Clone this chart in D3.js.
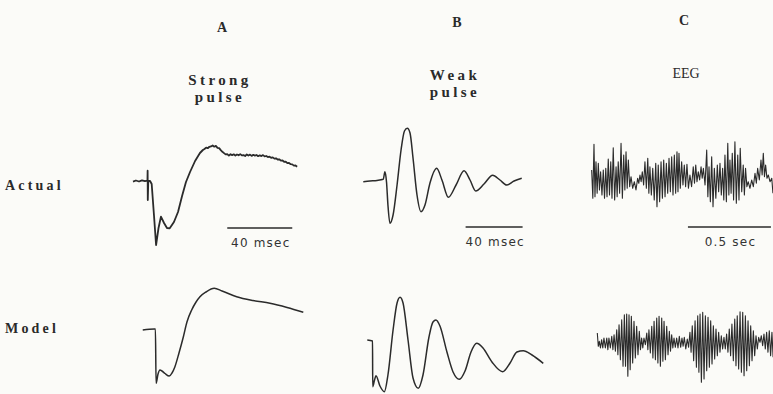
<!DOCTYPE html>
<html>
<head>
<meta charset="utf-8">
<script src="https://cdn.jsdelivr.net/npm/d3@7"></script>
<style>
  body { margin: 0; background: #fbfbf8; }
  svg { display: block; }
</style>
</head>
<body>
<div id="chart"></div>
<script>
// column headings and row labels
var columns = ["A", "B", "C"];
var titles = [["Strong", "pulse"], ["Weak", "pulse"], ["EEG"]];
var rows = ["Actual", "Model"];
var scaleLabels = ["40 msec", "40 msec", "0.5 sec"];
var scaleLengths = [40, 40, 500]; // ms

// A: strong pulse, [t ms, amplitude]
var strongActual = [[0,-0.7],[1.8,0.5],[3.7,-0.5],[5.5,0.7],[7.4,-0.2],[8.9,0.5],[9.0,10.3],[9.1,-19],[9.4,0],
  [10.5,0],[11.5,-3],[12.9,-34],[14.2,-64],[15.7,-47],[17.2,-35.7],[19.1,-42],[20.9,-47],[22.6,-47.3],
  [25.2,-41],[27.7,-31],[30.2,-15],[32.6,-1],[35.1,9],[38.2,20],[41.2,28],[43,31],
  [44,32.0],[45,33.4],[46,32.8],[47,34.2],[48,34.6],[49,35.6],[50,34.3],[51,35.1],[52,33.2],[53,32.9],
  [54,30.9],[55,29.2],[56,27.9],[57,26.6],[58,26.9],[59,25.4],[60,26.8],[61,25.9],[62,26.7],[63,25.4],
  [64,26.5],[65,25.7],[66,26.9],[67,25.6],[68,25.9],[69,24.9],[70,26.6],[71,25.5],[72,26.4],[73,25.1],
  [74,26.2],[75,25.4],[76,26.0],[77,24.8],[78,25.7],[79,24.9],[80,25.9],[81,24.6],[82,25.0],[83,23.9],
  [84,24.3],[85,23.2],[86,23.6],[87,22.4],[88,22.7],[89,21.5],[90,21.7],[91,20.4],[92,20.5],[93,19.2],
  [94,19.3],[95,17.9],[96,18.1],[97,16.8],[98,16.6],[99,15.4],[100,15.5],[101,14.3]];
var strongModel = [[6,0],[13.1,1],[13.8,1],[14.2,-53.3],[15.4,-44],[16.6,-40],[17.8,-41],[19.7,-43.5],
  [22.3,-46],[24,-43],[25.8,-36.7],[28.3,-23],[31,-6.7],[33.2,8],[36.1,20],[38.8,28],[41.2,33.3],
  [44.9,38],[50,41.7],[54.8,39],[63.8,33.3],[73.8,29.5],[84.3,26.7],[94.8,22.5],[104.8,17.7]];

// B: weak pulse, [t ms, amplitude]
var weakActual = [[0.2,-0.7],[4.9,0],[9.8,0.5],[14.2,1.7],[15.4,9.3],[16.5,-1],[17.5,-24],[18.9,-42.3],
  [21.1,-34],[23.9,-4],[26.7,31],[29.1,50],[31.1,52.7],[33,48],[35.1,23],[37.9,-14],[40.7,-30.7],
  [43.5,-24],[47,-2],[51.7,12.7],[55.4,1],[59.9,-16.3],[65.3,-4],[70.9,10.3],[75.1,1],[79.1,-10],
  [84.9,-3],[91,5.7],[96.1,1],[100.8,-4],[106,0],[111.4,2.7]];
var weakModel = [[3,1],[6.7,0],[6.8,-45.7],[8.1,-39],[9.1,-34.7],[11.9,-45],[15,-50.7],[17.5,-34],
  [21.1,11],[23.9,38],[26,43.7],[28.1,38],[31.6,1],[35.1,-37],[38.8,-47.3],[42.1,-34],[46.3,4],
  [49.1,19],[51.2,21],[54,15],[58.9,-11],[63.2,-31],[67.6,-38.3],[71.6,-30],[75.8,-11],[79.8,-2.3],
  [84.2,-7],[90.5,-21],[98,-30.7],[103.2,-22],[108,-11],[112.5,-9.7],[118.6,-14],[126.5,-22.3]];

// C: EEG, one entry per wave [t ms, crest, trough]
var eegActual = [[10,9,-19.3],[24,34.7,-17.7],[36,17.3,-14.3],[50,15.7,-11],[64,7.3,-16],[80,9,-19.3],
  [95,10.7,-17.7],[110,20,-16],[125,17.3,-19.3],[140,31.3,-21],[157,12.3,-17.7],[170,17.3,-14.3],
  [187,35.7,-19.3],[203,24,-11],[217,27.3,-9.3],[231,19,-7.7],[247,2.3,-9.3],[267,-2.7,-11],
  [287,0.7,-4.3],[301,4,-2.7],[315,7.3,-6],[331,17.3,-9.3],[348,20.7,-14.3],[361,12.3,-16],
  [378,10.7,-21],[396,15.7,-27.7],[411,14,-22.7],[428,17.3,-19.3],[444,19,-17.7],[460,15.7,-14.3],
  [476,20.7,-12.7],[492,22.3,-16],[508,24,-14.3],[524,27.3,-12.7],[536,25.7,-9.3],[552,17.3,-6],
  [568,14,-7.7],[584,14.7,-9.3],[602,4,-7.7],[622,12.3,-4.3],[637,14,-2.7],[652,7.3,-1],
  [669,12.3,0.7],[683,10.7,-6],[703,29,-17.7],[717,12.3,-22.7],[733,22.3,-27.7],[749,10.7,-19.3],
  [767,14,-12.7],[783,15.7,-16],[799,10.7,-21],[813,24,-22.7],[830,35.7,-16],[843,19,-14.3],
  [857,25.7,-21],[873,37.3,-24.3],[890,24,-21],[905,30.7,-12.7],[923,14,-16],[937,10.7,-7.7],
  [953,-2.7,-9.3],[974,-1,-7.7],[994,5.7,-4.3],[1010,10.7,-1],[1030,19,4],[1044,25.7,2.3],
  [1058,14,0.7],[1074,4,-2.7],[1095,0.7,-14.3]];
var eegModel = [[44,10,-3.3],[56,1.7,-5],[70,3.3,-5],[84,5,-5],[101,5,-6.7],[114,5,-5],[131,6.7,-6.7],
  [145,8.3,-8.3],[161,13.3,-11.7],[175,18.3,-16.7],[191,23.3,-23.3],[207,28.3,-23.3],[221,29,-33.3],
  [235,28.3,-26.7],[249,26.7,-20],[265,21.7,-15],[281,16.7,-11.7],[297,11.7,-6.7],[311,5,-5],
  [325,5,-1.7],[342,10,-6.7],[355,13.3,-10],[372,16.7,-15],[386,21.7,-16.7],[402,25,-20],
  [416,26.7,-23.3],[432,25,-18.3],[446,21.7,-16.7],[462,16.7,-11.7],[478,11.7,-8.3],[492,8.3,-5],
  [506,5,-4.3],[522,5,-5],[538,6.7,-4.3],[554,5,-3.3],[568,5.7,-6],[586,4,-4.3],[602,10.7,-9.3],
  [616,17.3,-17.7],[633,22.3,-24.3],[649,27.3,-29.3],[663,29,-39.3],[679,30.7,-36],[695,27.3,-27.7],
  [711,25.7,-24.3],[727,22.3,-21],[743,17.3,-16],[759,14,-12.7],[775,10.7,-9.3],[791,7.3,-6],
  [807,5.7,-6],[823,9,-9.3],[839,14,-12.7],[855,19,-17.7],[872,24,-22.7],[887,27.3,-26],
  [904,31.3,-29.3],[920,30.7,-32.7],[936,27.3,-27.7],[952,22.3,-22.7],[968,17.3,-17.7],
  [984,12.3,-12.7],[1000,7.3,-6],[1016,5.7,0.7],[1032,7.3,-2.7],[1048,9,-6],[1064,10.7,-9.3],
  [1080,12.3,-12.7],[1096,10.7,-14.3]];

var w = 773, h = 394;
var ink = "#2b2b2b";
var svg = d3.select("#chart").append("svg").attr("width", w).attr("height", h);

// time scales, one per column (px per ms)
var xA = d3.scaleLinear().domain([0, 110]).range([133, 133 + 110 * 1.625]);
var xB = d3.scaleLinear().domain([0, 130]).range([363, 363 + 130 * 1.425]);
var xC = d3.scaleLinear().domain([0, 1100]).range([590, 590 + 1100 * 0.166]);
// amplitude scales around each trace's baseline
function yAt(base) { return d3.scaleLinear().domain([0, 10]).range([base, base - 10]); }

// turn wave list into zig-zag points
function eegPoints(waves) {
  var pts = [];
  waves.forEach(function(d, i) {
    var next = i < waves.length - 1 ? waves[i + 1][0] : d[0] + 14;
    pts.push([d[0], d[1]]);
    pts.push([(d[0] + next) / 2, d[2]]);
  });
  return pts;
}

var traces = [
  {data: strongActual, x: xA, y: yAt(181), curve: d3.curveLinear, sw: 1.8},
  {data: strongModel, x: xA, y: yAt(330), curve: d3.curveMonotoneX, sw: 1.5},
  {data: weakActual, x: xB, y: yAt(181), curve: d3.curveMonotoneX, sw: 1.5},
  {data: weakModel, x: xB, y: yAt(341), curve: d3.curveMonotoneX, sw: 1.5},
  {data: eegPoints(eegActual), x: xC, y: yAt(179), curve: d3.curveLinear, sw: 1.1},
  {data: eegPoints(eegModel), x: xC, y: yAt(343), curve: d3.curveLinear, sw: 1.1}
];

traces.forEach(function(tr) {
  var line = d3.line()
    .x(function(d) { return tr.x(d[0]); })
    .y(function(d) { return tr.y(d[1]); })
    .curve(tr.curve);
  svg.append("path")
    .attr("d", line(tr.data))
    .attr("fill", "none")
    .style("stroke", ink)
    .style("stroke-width", tr.sw)
    .style("stroke-linejoin", "round");
});

// scale bars
var bars = [
  {x: xA, t0: 58, y: 228},
  {x: xB, t0: 72, y: 227},
  {x: xC, t0: 590, y: 227}
];
bars.forEach(function(b, i) {
  var x1 = b.x(b.t0), x2 = b.x(b.t0 + scaleLengths[i]);
  svg.append("line")
    .attr("x1", x1).attr("x2", x2).attr("y1", b.y).attr("y2", b.y)
    .style("stroke", ink).style("stroke-width", 1.6);
  svg.append("text")
    .attr("x", (x1 + x2) / 2 + 1).attr("y", b.y + 19)
    .attr("text-anchor", "middle")
    .style("font-family", "'DejaVu Sans', sans-serif")
    .style("font-size", "12px")
    .style("letter-spacing", "1.2px")
    .style("fill", "#333")
    .text(scaleLabels[i]);
});

// column letters
var colX = [222, 457, 684], colY = [32, 27, 25];
svg.selectAll("text.col").data(columns).enter().append("text")
  .attr("class", "col")
  .attr("x", function(d, i) { return colX[i]; })
  .attr("y", function(d, i) { return colY[i]; })
  .attr("text-anchor", "middle")
  .style("font-family", "'Liberation Serif', serif")
  .style("font-weight", "bold")
  .style("font-size", "14px")
  .style("fill", "#2a2a2a")
  .text(function(d) { return d; });

// column titles
var titleX = [220, 455, 686], titleY = [85, 80, 78];
titles.forEach(function(lines, i) {
  lines.forEach(function(s, j) {
    svg.append("text")
      .attr("x", titleX[i]).attr("y", titleY[i] + j * 17)
      .attr("text-anchor", "middle")
      .style("font-family", "'Liberation Serif', serif")
      .style("font-weight", i < 2 ? "bold" : "normal")
      .style("font-size", i < 2 ? "15px" : "14px")
      .style("letter-spacing", i < 2 ? "3.4px" : "0px")
      .style("fill", "#2a2a2a")
      .text(s);
  });
});

// row labels
var rowY = [190, 333];
svg.selectAll("text.row").data(rows).enter().append("text")
  .attr("class", "row")
  .attr("x", 5)
  .attr("y", function(d, i) { return rowY[i]; })
  .style("font-family", "'Liberation Serif', serif")
  .style("font-weight", "bold")
  .style("font-size", "14px")
  .style("letter-spacing", "3.2px")
  .style("fill", "#2a2a2a")
  .text(function(d) { return d; });
</script>
</body>
</html>
